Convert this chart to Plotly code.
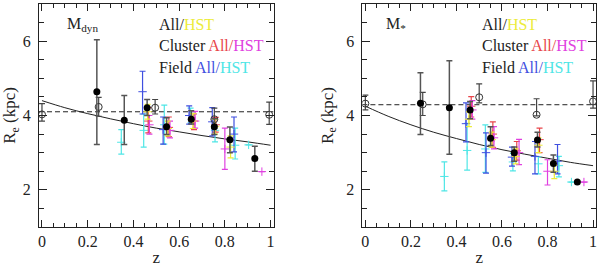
import numpy as np
import plotly.graph_objects as go

# ---------------- Left panel: M_dyn ----------------
dyn_curve_z = [0.0, 0.1, 0.2, 0.3, 0.4, 0.5, 0.6, 0.7, 0.8, 0.9, 1.0]
dyn_curve_r = [4.40, 4.21, 4.05, 3.91, 3.78, 3.66, 3.56, 3.46, 3.37, 3.29, 3.20]
dyn_dash_r = 4.10

dyn_all_z = [0.240, 0.360, 0.460, 0.545, 0.653, 0.754, 0.822, 0.931]
dyn_all_r = [4.64, 3.87, 4.21, 3.70, 3.90, 3.70, 3.35, 2.84]
dyn_all_hi = [6.04, 4.54, 4.43, 3.94, 4.13, 3.91, 3.69, 3.17]
dyn_all_lo = [3.22, 3.22, 4.00, 3.49, 3.77, 3.49, 3.00, 2.50]

dyn_loc_z = [0.000, 0.248, 0.495, 0.754, 0.994]
dyn_loc_r = [4.03, 4.23, 4.21, 3.90, 4.02]
dyn_loc_hi = [4.32, 4.49, 4.43, 4.20, 4.36]
dyn_loc_lo = [3.85, 3.98, 4.04, 3.65, 3.76]

dyn_hst_z = [0.462, 0.550, 0.660, 0.757, 0.825]
dyn_hst_r = [4.10, 3.65, 3.85, 3.70, 3.15]
dyn_hst_hi = [4.30, 3.85, 4.05, 3.90, 3.45]
dyn_hst_lo = [3.90, 3.45, 3.65, 3.50, 2.86]

dyn_cl_z = [0.465, 0.555, 0.665, 0.760]
dyn_cl_r = [3.85, 3.68, 3.85, 3.75]
dyn_cl_hi = [4.21, 3.96, 4.04, 3.95]
dyn_cl_lo = [3.53, 3.43, 3.62, 3.55]

dyn_clh_z = [0.470, 0.560, 0.670, 0.800, 0.962]
dyn_clh_r = [3.75, 3.60, 3.85, 3.10, 2.49]
dyn_clh_hi = [4.00, 3.85, 4.11, 3.66, 2.49]
dyn_clh_lo = [3.50, 3.40, 3.66, 2.55, 2.49]

dyn_fd_z = [0.440, 0.530, 0.644, 0.745, 0.840]
dyn_fd_r = [4.64, 3.62, 4.00, 3.83, 3.50]
dyn_fd_hi = [5.19, 3.96, 4.26, 4.21, 3.96]
dyn_fd_lo = [4.04, 3.23, 3.77, 3.45, 3.02]

dyn_fdh_z = [0.347, 0.445, 0.535, 0.650, 0.757, 0.845, 0.904]
dyn_fdh_r = [3.28, 3.60, 3.75, 4.00, 3.60, 3.20, 3.21]
dyn_fdh_hi = [3.62, 4.04, 4.28, 4.20, 3.90, 3.66, 3.21]
dyn_fdh_lo = [2.96, 3.15, 3.23, 3.80, 3.29, 2.83, 3.21]

# ---------------- Right panel: M_* ----------------
st_curve_z = [0.0, 0.1, 0.2, 0.3, 0.4, 0.5, 0.6, 0.7, 0.8, 0.9, 1.0]
st_curve_r = [4.25, 3.98, 3.75, 3.55, 3.38, 3.22, 3.08, 2.96, 2.85, 2.74, 2.65]
st_dash_r = 4.29

st_all_z = [0.242, 0.369, 0.460, 0.550, 0.654, 0.756, 0.826, 0.931]
st_all_r = [4.33, 4.21, 4.15, 3.39, 3.00, 3.34, 2.71, 2.21]
st_all_hi = [5.15, 5.47, 4.38, 3.70, 3.15, 3.55, 2.94, 2.21]
st_all_lo = [3.49, 2.96, 3.91, 3.19, 2.77, 3.15, 2.47, 2.21]

st_loc_z = [0.000, 0.252, 0.500, 0.752, 1.000]
st_loc_r = [4.32, 4.30, 4.49, 4.02, 4.38]
st_loc_hi = [4.55, 4.62, 4.85, 4.45, 4.93]
st_loc_lo = [4.15, 4.00, 4.34, 3.99, 4.20]

st_hst_z = [0.455, 0.555, 0.660, 0.760, 0.830]
st_hst_r = [3.90, 3.35, 2.90, 3.20, 2.50]
st_hst_hi = [4.10, 3.55, 3.10, 3.40, 2.66]
st_hst_lo = [3.70, 3.15, 2.70, 3.00, 2.30]

st_cl_z = [0.465, 0.560, 0.665, 0.765]
st_cl_r = [4.25, 3.50, 3.05, 3.35]
st_cl_hi = [4.51, 3.83, 3.30, 3.66]
st_cl_lo = [3.96, 3.14, 2.80, 3.00]

st_clh_z = [0.470, 0.565, 0.675, 0.800, 0.960]
st_clh_r = [4.15, 3.40, 3.00, 2.50, 2.21]
st_clh_hi = [4.40, 3.70, 3.36, 2.81, 2.21]
st_clh_lo = [3.90, 3.10, 2.68, 2.13, 2.21]

st_fd_z = [0.442, 0.530, 0.644, 0.745, 0.844]
st_fd_r = [3.78, 3.00, 2.88, 2.90, 2.77]
st_fd_hi = [4.34, 3.53, 3.15, 3.30, 3.22]
st_fd_lo = [3.29, 2.45, 2.64, 2.43, 2.43]

st_fdh_z = [0.347, 0.447, 0.527, 0.648, 0.760, 0.850, 0.905]
st_fdh_r = [2.36, 3.06, 3.10, 2.75, 2.70, 2.65, 2.21]
st_fdh_hi = [2.75, 3.79, 3.75, 2.98, 2.89, 2.90, 2.21]
st_fdh_lo = [1.97, 2.53, 2.47, 2.51, 2.43, 2.35, 2.21]

YELLOW = "#ecec3a"
RED = "#e8454a"
MAGENTA = "#e040e0"
BLUE = "#3f4fe0"
CYAN = "#4fe6e6"
FONT = "Liberation Serif"
INK = "#222"

fig = go.Figure()


def err(y, hi, lo):
    y = np.array(y); hi = np.array(hi); lo = np.array(lo)
    return hi - y, y - lo


def colored(z, r, hi, lo, color, xa, ya):
    up, dn = err(r, hi, lo)
    fig.add_trace(go.Scatter(
        x=z, y=r, mode="markers", xaxis=xa, yaxis=ya,
        marker=dict(symbol="cross-thin", size=6, line=dict(color=color, width=1), color=color),
        error_y=dict(type="data", symmetric=False, array=up, arrayminus=dn,
                     color=color, thickness=1.2, width=3),
        showlegend=False, hoverinfo="skip"))


def panel(xa, ya, cz, cr, dash_r,
          loc, allp, hst, cl, clh, fd, fdh):
    fig.add_trace(go.Scatter(x=cz, y=cr, mode="lines", line=dict(color=INK, width=1, shape="spline"),
                             xaxis=xa, yaxis=ya, showlegend=False, hoverinfo="skip"))
    fig.add_trace(go.Scatter(x=[-0.013, 1.013], y=[dash_r, dash_r], mode="lines",
                             line=dict(color=INK, width=1, dash="5px,3px"),
                             xaxis=xa, yaxis=ya, showlegend=False, hoverinfo="skip"))
    colored(*fdh, CYAN, xa, ya)
    colored(*fd, BLUE, xa, ya)
    colored(*cl, RED, xa, ya)
    colored(*clh, MAGENTA, xa, ya)
    colored(*hst, YELLOW, xa, ya)
    # open circles
    z, r, hi, lo = loc
    up, dn = err(r, hi, lo)
    fig.add_trace(go.Scatter(
        x=z, y=r, mode="markers", xaxis=xa, yaxis=ya,
        marker=dict(symbol="circle-open", size=7, color="#333", line=dict(width=1)),
        error_y=dict(type="data", symmetric=False, array=up, arrayminus=dn,
                     color="#444", thickness=1.2, width=3),
        showlegend=False, hoverinfo="skip"))
    # filled black circles
    z, r, hi, lo = allp
    up, dn = err(r, hi, lo)
    fig.add_trace(go.Scatter(
        x=z, y=r, mode="markers", xaxis=xa, yaxis=ya,
        marker=dict(symbol="circle", size=7, color="black"),
        error_y=dict(type="data", symmetric=False, array=up, arrayminus=dn,
                     color="#555", thickness=1.5, width=3),
        showlegend=False, hoverinfo="skip"))


panel("x", "y", dyn_curve_z, dyn_curve_r, dyn_dash_r,
      (dyn_loc_z, dyn_loc_r, dyn_loc_hi, dyn_loc_lo),
      (dyn_all_z, dyn_all_r, dyn_all_hi, dyn_all_lo),
      (dyn_hst_z, dyn_hst_r, dyn_hst_hi, dyn_hst_lo),
      (dyn_cl_z, dyn_cl_r, dyn_cl_hi, dyn_cl_lo),
      (dyn_clh_z, dyn_clh_r, dyn_clh_hi, dyn_clh_lo),
      (dyn_fd_z, dyn_fd_r, dyn_fd_hi, dyn_fd_lo),
      (dyn_fdh_z, dyn_fdh_r, dyn_fdh_hi, dyn_fdh_lo))

panel("x2", "y2", st_curve_z, st_curve_r, st_dash_r,
      (st_loc_z, st_loc_r, st_loc_hi, st_loc_lo),
      (st_all_z, st_all_r, st_all_hi, st_all_lo),
      (st_hst_z, st_hst_r, st_hst_hi, st_hst_lo),
      (st_cl_z, st_cl_r, st_cl_hi, st_cl_lo),
      (st_clh_z, st_clh_r, st_clh_hi, st_clh_lo),
      (st_fd_z, st_fd_r, st_fd_hi, st_fd_lo),
      (st_fdh_z, st_fdh_r, st_fdh_hi, st_fdh_lo))

xcommon = dict(range=[-0.013, 1.013], tick0=0, dtick=0.2, ticks="inside", ticklen=7,
               tickcolor=INK, showline=True, linecolor=INK, linewidth=1, mirror="allticks",
               showgrid=False, zeroline=False,
               minor=dict(tick0=0, dtick=0.05, ticks="inside", ticklen=4, tickcolor=INK, showgrid=False),
               tickfont=dict(family=FONT, size=16, color=INK),
               title=dict(text="z", font=dict(family=FONT, size=17, color=INK), standoff=2))
ycommon = dict(range=[1, 7], tick0=0, dtick=2, ticks="inside", ticklen=8,
               tickcolor=INK, showline=True, linecolor=INK, linewidth=1, mirror="allticks",
               showgrid=False, zeroline=False,
               minor=dict(tick0=0, dtick=0.5, ticks="inside", ticklen=5, tickcolor=INK, showgrid=False),
               tickfont=dict(family=FONT, size=16, color=INK), ticklabelstandoff=4,
               title=dict(text="R<sub>e</sub> (kpc)", font=dict(family=FONT, size=17, color=INK), standoff=8))

fig.update_layout(
    width=600, height=267, margin=dict(l=39, r=3, t=3, b=31),
    paper_bgcolor="white", plot_bgcolor="white",
    xaxis=dict(domain=[0, 0.4211], anchor="y", **xcommon),
    yaxis=dict(domain=[0, 1], anchor="x", **ycommon),
    xaxis2=dict(domain=[0.5806, 1], anchor="y2", **xcommon),
    yaxis2=dict(domain=[0, 1], anchor="x2", **ycommon),
)

tf = dict(family=FONT, size=16, color=INK)
for xr, yr, label, lx in [("x", "y", "M<sub>dyn</sub>", 0.10), ("x2", "y2", "M<sub>*</sub>", 0.08)]:
    fig.add_annotation(x=lx, y=6.45, xref=xr, yref=yr, text=label, showarrow=False,
                       xanchor="left", yanchor="middle", font=tf)
    fig.add_annotation(x=0.505, y=6.45, xref=xr, yref=yr, showarrow=False,
                       xanchor="left", yanchor="middle", font=tf,
                       text=f"All/<span style='color:{YELLOW}'>HST</span>")
    fig.add_annotation(x=0.505, y=5.88, xref=xr, yref=yr, showarrow=False,
                       xanchor="left", yanchor="middle", font=tf,
                       text=f"Cluster <span style='color:{RED}'>All/</span><span style='color:{MAGENTA}'>HST</span>")
    fig.add_annotation(x=0.505, y=5.28, xref=xr, yref=yr, showarrow=False,
                       xanchor="left", yanchor="middle", font=tf,
                       text=f"Field <span style='color:{BLUE}'>All/</span><span style='color:{CYAN}'>HST</span>")

fig.write_html("out.html", config={"displayModeBar": False},
               post_script="document.body.style.margin='0';document.body.style.overflow='hidden';")
